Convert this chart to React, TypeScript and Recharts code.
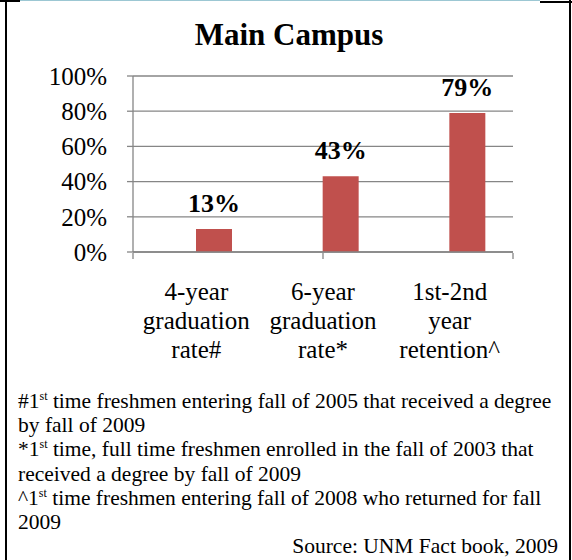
import React from 'react';
import { BarChart, Bar, XAxis, YAxis, CartesianGrid, LabelList } from 'recharts';

// values
const categories = ['4-year graduation rate#', '6-year graduation rate*', '1st-2nd year retention^'];
const categoryLines = [
  ['4-year', 'graduation', 'rate#'],
  ['6-year', 'graduation', 'rate*'],
  ['1st-2nd', 'year', 'retention^'],
];
const rates = [13, 43, 79];
// Excel left an empty first series, which pushes the visible bars right of centre
const blankSeries = [null, null, null];
const yTicks = [0, 20, 40, 60, 80, 100];
const edgeTicks = [0, 1, 2, 3];

const serif = '"Liberation Serif", "Times New Roman", serif';
const gray = '#868686';
const barColor = '#C0504D';

const data = categories.map((name, i) => ({
  name,
  blank: blankSeries[i],
  rate: rates[i],
}));

const CategoryTick = ({ x, y, payload }: any) => {
  const lines = categoryLines[payload.index] || [payload.value];
  return (
    <text x={x} y={y} textAnchor="middle" fill="#000" fontFamily={serif} fontSize={25}>
      {lines.map((line: string, i: number) => (
        <tspan key={i} x={x} dy={i === 0 ? 0 : 29}>
          {line}
        </tspan>
      ))}
    </text>
  );
};

const Sup = () => (
  <span style={{ fontSize: 12, position: 'relative', top: -8, lineHeight: 0 }}>st</span>
);

export default function App() {
  return (
    <div style={{ position: 'absolute', left: 0, top: 0, width: 572, height: 560, background: '#fff', fontFamily: serif, color: '#000', overflow: 'hidden' }}>
      {/* frame */}
      <div style={{ position: 'absolute', left: 5, top: 0, width: 2, height: 560, background: '#000' }} />
      <div style={{ position: 'absolute', left: 569, top: 0, width: 2, height: 560, background: '#000' }} />
      <div style={{ position: 'absolute', left: 0, top: 0, width: 20, height: 2, background: '#000' }} />
      <div style={{ position: 'absolute', left: 20, top: 0, width: 520, height: 1, background: '#9cc7d3' }} />
      <div style={{ position: 'absolute', left: 540, top: 1, width: 32, height: 2, background: '#000' }} />

      <div style={{ position: 'absolute', left: 0, top: 19, width: 578, textAlign: 'center', fontSize: 31, lineHeight: '31px', fontWeight: 'bold' }}>
        Main Campus
      </div>

      <div style={{ position: 'absolute', left: 0, top: 0 }}>
        <BarChart
          width={572}
          height={380}
          data={data}
          margin={{ top: 76, right: 59, bottom: 126, left: 73 }}
          barGap={0}
          barSize={36}
        >
          <CartesianGrid vertical={false} stroke={gray} strokeWidth={1.3} />
          <YAxis
            width={60}
            domain={[0, 100]}
            ticks={yTicks}
            interval={0}
            tickFormatter={(v) => `${v}%`}
            axisLine={{ stroke: gray, strokeWidth: 1.3 }}
            tickLine={{ stroke: gray, strokeWidth: 1.3 }}
            tickSize={6}
            tickMargin={20}
            tick={{ fill: '#000', fontFamily: serif, fontSize: 25 }}
          />
          <XAxis
            xAxisId="cat"
            dataKey="name"
            height={1}
            interval={0}
            axisLine={{ stroke: gray, strokeWidth: 1.3 }}
            tickLine={false}
            tickSize={0}
            tickMargin={48}
            tick={<CategoryTick />}
          />
          <XAxis
            xAxisId="edges"
            type="number"
            domain={[0, 3]}
            ticks={edgeTicks}
            allowDataOverflow
            height={1}
            axisLine={false}
            tickLine={{ stroke: gray, strokeWidth: 1.3 }}
            tickSize={6}
            tickFormatter={() => ''}
          />
          <Bar xAxisId="cat" dataKey="blank" fill={barColor} isAnimationActive={false} />
          <Bar xAxisId="cat" dataKey="rate" fill={barColor} isAnimationActive={false}>
            <LabelList
              dataKey="rate"
              position="top"
              offset={17}
              formatter={(v: any) => `${v}%`}
              style={{ fill: '#000', fontFamily: serif, fontSize: 26, fontWeight: 'bold' }}
            />
          </Bar>
        </BarChart>
      </div>

      <div style={{ position: 'absolute', left: 18, top: 389, width: 540, fontSize: 21.5, lineHeight: '24.2px', whiteSpace: 'nowrap' }}>
        <div>#1<Sup /> time freshmen entering fall of 2005 that received a degree</div>
        <div>by fall of 2009</div>
        <div>*1<Sup /> time, full time freshmen enrolled in the fall of 2003 that</div>
        <div>received a degree by fall of 2009</div>
        <div>^1<Sup /> time freshmen entering fall of 2008 who returned for fall</div>
        <div>2009</div>
        <div style={{ textAlign: 'right', paddingRight: 0 }}>Source: UNM Fact book, 2009</div>
      </div>
    </div>
  );
}
